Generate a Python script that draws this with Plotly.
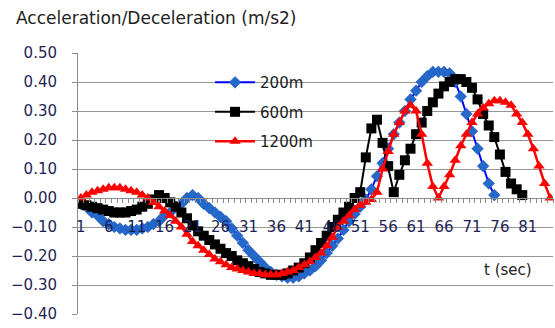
import plotly.graph_objects as go

t = list(range(1, 86))

s200 = [-0.02, -0.03, -0.05, -0.06, -0.08, -0.09, -0.10, -0.105, -0.11, -0.11,
        -0.11, -0.105, -0.10, -0.09, -0.08, -0.06, -0.05, -0.03, -0.02, 0.00,
        0.01, 0.00, -0.02, -0.035, -0.05, -0.065, -0.08, -0.105, -0.13, -0.155,
        -0.18, -0.20, -0.22, -0.24, -0.255, -0.265, -0.27, -0.275, -0.275, -0.27,
        -0.26, -0.25, -0.235, -0.215, -0.19, -0.165, -0.14, -0.11, -0.08, -0.055,
        -0.03, -0.005, 0.03, 0.075, 0.12, 0.17, 0.22, 0.26, 0.30, 0.34,
        0.37, 0.40, 0.42, 0.435, 0.435, 0.435, 0.43, 0.40, 0.35, 0.29,
        0.23, 0.17, 0.11, 0.05, 0.01] + [None] * 10

s600 = [-0.02, -0.025, -0.03, -0.035, -0.04, -0.045, -0.05, -0.05, -0.05, -0.045,
        -0.04, -0.03, -0.02, -0.005, 0.01, 0.00, -0.015, -0.03, -0.05, -0.07,
        -0.095, -0.115, -0.13, -0.145, -0.16, -0.175, -0.19, -0.20, -0.215, -0.225,
        -0.235, -0.245, -0.255, -0.26, -0.265, -0.265, -0.265, -0.26, -0.25, -0.24,
        -0.225, -0.205, -0.18, -0.155, -0.13, -0.10, -0.075, -0.05, -0.03, 0.00,
        0.02, 0.14, 0.24, 0.27, 0.19, 0.11, 0.02, 0.08, 0.13, 0.17,
        0.22, 0.26, 0.30, 0.33, 0.36, 0.385, 0.40, 0.41, 0.41, 0.40,
        0.38, 0.34, 0.29, 0.25, 0.21, 0.15, 0.09, 0.05, 0.03, 0.01] + [None] * 5

s1200 = [0.00, 0.01, 0.02, 0.025, 0.03, 0.035, 0.035, 0.035, 0.03, 0.025,
         0.02, 0.01, 0.00, -0.015, -0.03, -0.045, -0.06, -0.08, -0.10, -0.125,
         -0.15, -0.165, -0.18, -0.195, -0.21, -0.22, -0.23, -0.24, -0.245, -0.25,
         -0.255, -0.26, -0.26, -0.265, -0.265, -0.265, -0.26, -0.255, -0.25, -0.24,
         -0.23, -0.22, -0.205, -0.19, -0.165, -0.135, -0.10, -0.08, -0.06, -0.04,
         -0.025, -0.015, -0.005, 0.02, 0.10, 0.16, 0.22, 0.26, 0.30, 0.32,
         0.30, 0.22, 0.12, 0.04, 0.00, 0.04, 0.08, 0.13, 0.18, 0.22,
         0.26, 0.29, 0.31, 0.325, 0.335, 0.335, 0.33, 0.32, 0.29, 0.26,
         0.22, 0.17, 0.11, 0.05, 0.00]

x_tick_vals = list(range(1, 86, 5))
y_tick_vals = [0.5, 0.4, 0.3, 0.2, 0.1, 0.0, -0.1, -0.2, -0.3, -0.4]

FONT = "DejaVu Sans"
LABEL = "#1f1f55"
GRID = "#969696"
AXIS = "#8c8c8c"

fig = go.Figure()
fig.add_trace(go.Scatter(x=t, y=s200, name="200m", mode="lines+markers",
                         legendgroup="a",
                         line=dict(color="#0000ff", width=2),
                         marker=dict(symbol="diamond", size=9, color="#2468cc",
                                     line=dict(color="#1a50b0", width=0.5))))
fig.add_trace(go.Scatter(x=t, y=s600, name="600m", mode="lines+markers",
                         legendgroup="b",
                         line=dict(color="#000000", width=2),
                         marker=dict(symbol="square", size=10, color="#000000")))
fig.add_trace(go.Scatter(x=t, y=s1200, name="1200m", mode="lines+markers",
                         legendgroup="c",
                         line=dict(color="#ff0000", width=2.5),
                         marker=dict(symbol="triangle-up", size=10, color="#ff0000")))

fig.update_layout(
    width=555, height=328,
    margin=dict(l=78, r=2, t=53, b=14),
    paper_bgcolor="white", plot_bgcolor="white",
    font=dict(family=FONT, size=15, color=LABEL),
    showlegend=True,
    legend=dict(x=0.278, y=0.95, xanchor="left", yanchor="top",
                bgcolor="rgba(0,0,0,0)", tracegroupgap=7, itemwidth=40,
                font=dict(family=FONT, size=15, color="#1a1a1a")),
    xaxis=dict(range=[0.5, 85.5], anchor="free", position=(0 - (-0.4)) / 0.9,
               tickmode="array", tickvals=x_tick_vals,
               ticktext=[str(v) for v in x_tick_vals],
               ticks="", showgrid=False, zeroline=False,
               showline=True, linecolor=AXIS, linewidth=1,
               ticklabelstandoff=15,
               tickfont=dict(family=FONT, size=15, color=LABEL),
               minor=dict(ticks="outside", tick0=0.5, dtick=1, ticklen=4,
                          tickcolor=AXIS, showgrid=False)),
    yaxis=dict(range=[-0.4, 0.5], tickmode="array", tickvals=y_tick_vals,
               tickformat=".2f", showgrid=True, gridcolor=GRID, gridwidth=1,
               zeroline=False, showline=True, linecolor=AXIS,
               ticks="outside", ticklen=5, tickcolor=AXIS,
               ticklabelstandoff=12,
               tickfont=dict(family=FONT, size=15, color=LABEL)),
    annotations=[
        dict(text="Acceleration/Deceleration (m/s2)", xref="paper", yref="paper",
             x=-64 / 475, y=1 + 35 / 261, xanchor="left", yanchor="middle",
             showarrow=False, font=dict(family=FONT, size=17, color="#222222")),
        dict(text="t (sec)", xref="paper", yref="paper",
             x=(534 - 78) / 475, y=(314 - 270) / 261, xanchor="right", yanchor="middle",
             showarrow=False, font=dict(family=FONT, size=15, color="#222222")),
    ],
)

fig.write_html("out.html", config={"displayModeBar": False},
               post_script="document.body.style.margin='0';")
